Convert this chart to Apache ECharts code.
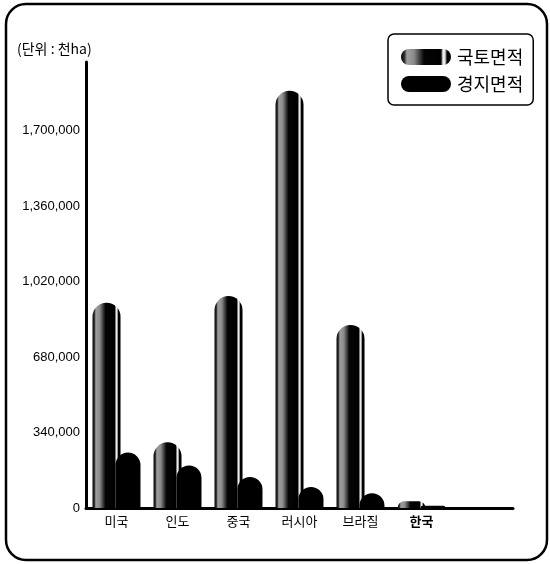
<!DOCTYPE html>
<html>
<head>
<meta charset="utf-8">
<script src="https://cdn.jsdelivr.net/npm/echarts@6/dist/echarts.min.js"></script>
<style>
html,body{margin:0;padding:0;background:#fff;}
#chart{width:550px;height:564px;}
</style>
</head>
<body>
<div id="chart"></div>
<script>
var categories = ['미국', '인도', '중국', '러시아', '브라질', '한국'];
var landArea = [925000, 296000, 955000, 1880000, 825000, 30000];
var cropArea = [250000, 192000, 140000, 95000, 67000, 10000];
var seriesNames = ['국토면적', '경지면적'];
var yTickLabels = ['0', '340,000', '680,000', '1,020,000', '1,360,000', '1,700,000'];
var unitLabel = '(단위 : 천ha)';

var FONT = '"Noto Sans CJK KR", "Noto Sans", sans-serif';

var landColor = {
  type: 'linear', x: 0, y: 0, x2: 1, y2: 0,
  colorStops: [
    {offset: 0, color: '#000'},
    {offset: 0.07, color: '#333'},
    {offset: 0.12, color: '#a0a0a0'},
    {offset: 0.26, color: '#8a8a8a'},
    {offset: 0.38, color: '#3a3a3a'},
    {offset: 0.46, color: '#050505'},
    {offset: 0.80, color: '#000'},
    {offset: 0.84, color: '#f4f4f4'},
    {offset: 0.88, color: '#e0e0e0'},
    {offset: 0.92, color: '#000'},
    {offset: 1, color: '#000'}
  ]
};

var chart = echarts.init(document.getElementById('chart'), null, {renderer: 'canvas'});
chart.setOption({
  animation: false,
  backgroundColor: '#fff',
  textStyle: {fontFamily: FONT},
  graphic: [{
    type: 'rect',
    shape: {x: 6, y: 4, width: 541, height: 556, r: 20},
    style: {fill: 'none', stroke: '#000', lineWidth: 2.5},
    z: -10
  }],
  title: {
    text: unitLabel,
    left: 12, top: 37,
    textStyle: {fontSize: 14, fontWeight: 'normal', color: '#000', fontFamily: FONT}
  },
  legend: {
    orient: 'vertical',
    left: 388, top: 34,
    padding: [14, 10, 12, 13],
    itemGap: 9,
    itemWidth: 50, itemHeight: 16,
    borderColor: '#000', borderWidth: 1.5, borderRadius: 6,
    icon: 'path://M8,0 H42 A8,8 0 0 1 42,16 H8 A8,8 0 0 1 8,0 Z',
    textStyle: {fontSize: 18, color: '#000', fontFamily: FONT, padding: [0, 0, 0, 1]},
    data: seriesNames
  },
  grid: {left: 86, right: 37, top: 62, bottom: 56},
  xAxis: {
    type: 'category',
    data: categories,
    max: 6,
    axisLine: {lineStyle: {color: '#000', width: 3}},
    axisTick: {show: false},
    axisLabel: {
      color: '#000', fontSize: 13, margin: 7, fontFamily: FONT,
      formatter: function (v) { return v === '한국' ? '{b|' + v + '}' : v; },
      rich: {b: {fontWeight: 'bold', fontSize: 13, fontFamily: FONT}}
    }
  },
  yAxis: {
    type: 'value',
    min: 0, max: 2010000, interval: 340000,
    axisLine: {show: true, lineStyle: {color: '#000', width: 3}},
    axisTick: {show: false},
    splitLine: {show: false},
    axisLabel: {
      color: '#000', fontSize: 13, margin: 6, fontFamily: '"Liberation Sans", sans-serif',
      showMaxLabel: false,
      formatter: function (v) {
        var i = Math.round(v / 340000);
        return (i * 340000 === v && yTickLabels[i] !== undefined) ? yTickLabels[i] : '';
      }
    }
  },
  series: [{
    name: seriesNames[0],
    type: 'bar',
    data: landArea,
    barWidth: 28,
    barGap: '-18%',
    itemStyle: {color: landColor, borderRadius: [14, 14, 0, 0]},
    z: 2
  }, {
    name: seriesNames[1],
    type: 'bar',
    data: cropArea,
    barWidth: 25,
    itemStyle: {color: '#000', borderRadius: [12.5, 12.5, 0, 0]},
    z: 3
  }]
});
</script>
</body>
</html>
